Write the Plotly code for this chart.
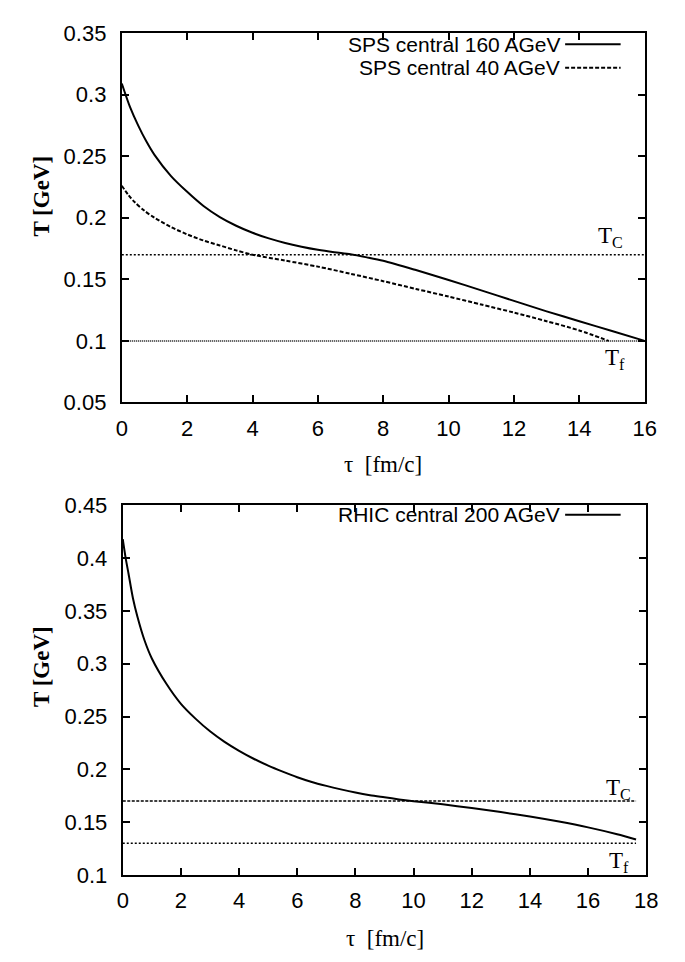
import plotly.graph_objects as go

# ---------------- data ----------------
tau_160 = [0, 0.25, 0.5, 0.75, 1.0, 1.5, 2.0, 2.5, 3.0, 3.5, 4.0, 4.5, 5.0, 5.5, 6.0, 6.5, 7.0,
           7.5, 8, 9, 10, 11, 12, 13, 14, 15, 16]
T_160 = [0.309, 0.290, 0.275, 0.262, 0.251, 0.234, 0.221, 0.2095, 0.2005, 0.1935, 0.1878, 0.1832,
         0.1795, 0.1765, 0.174, 0.172, 0.1703, 0.1678, 0.165, 0.1575, 0.1495, 0.141, 0.1325,
         0.124, 0.116, 0.108, 0.100]

tau_40 = [0, 0.2, 0.4, 0.7, 1.0, 1.5, 2.0, 2.5, 3.0, 3.5, 4.0, 5, 6, 7, 8, 9, 10, 11, 12, 13, 14, 14.9]
T_40 = [0.226, 0.2185, 0.2125, 0.2055, 0.200, 0.1925, 0.1865, 0.1815, 0.1775, 0.1735, 0.1700,
        0.1652, 0.1603, 0.1545, 0.1485, 0.1422, 0.136, 0.1295, 0.123, 0.116, 0.1085, 0.100]

tau_rhic = [0, 0.1, 0.2, 0.35, 0.5, 0.75, 1.0, 1.5, 2.0, 2.5, 3.0, 3.5, 4.0, 4.5, 5.0, 5.5, 6.0,
            6.5, 7.0, 7.5, 8.0, 8.5, 9.0, 9.5, 10, 11, 12, 13, 14, 15, 16, 17, 17.65]
T_rhic = [0.418, 0.400, 0.385, 0.362, 0.345, 0.322, 0.305, 0.281, 0.262, 0.248, 0.236, 0.226,
          0.2175, 0.210, 0.2035, 0.1978, 0.1925, 0.188, 0.1843, 0.181, 0.178, 0.1755, 0.1735,
          0.1715, 0.1698, 0.1668, 0.1633, 0.1595, 0.1553, 0.1505, 0.145, 0.1385, 0.1335]

Tc_sps, Tf_sps, tau_end_sps = 0.17, 0.10, 16.0
Tc_rhic, Tf_rhic, tau_end_rhic = 0.17, 0.13, 17.65

x_ticks_top = [0, 2, 4, 6, 8, 10, 12, 14, 16]
y_ticks_top = [0.05, 0.1, 0.15, 0.2, 0.25, 0.3, 0.35]
y_text_top = ["0.05", "0.1", "0.15", "0.2", "0.25", "0.3", "0.35"]
x_ticks_bot = [0, 2, 4, 6, 8, 10, 12, 14, 16, 18]
y_ticks_bot = [0.1, 0.15, 0.2, 0.25, 0.3, 0.35, 0.4, 0.45]
y_text_bot = ["0.1", "0.15", "0.2", "0.25", "0.3", "0.35", "0.4", "0.45"]

names = ["SPS central 160 AGeV", "SPS central 40 AGeV", "RHIC central 200 AGeV"]

# ---------------- figure ----------------
W, H = 685, 962
SANS = "Liberation Sans, Arial, Helvetica, sans-serif"
SERIF = "Liberation Serif, Times New Roman, serif"
FS = 22

fig = go.Figure()

lw = 2.0
spl = dict(shape="spline", smoothing=0.8)
fig.add_trace(go.Scatter(x=tau_160, y=T_160, mode="lines", name=names[0],
                         line=dict(color="black", width=lw, **spl),
                         xaxis="x", yaxis="y", showlegend=False))
fig.add_trace(go.Scatter(x=tau_40, y=T_40, mode="lines", name=names[1],
                         line=dict(color="black", width=lw, dash="4px,2px", **spl),
                         xaxis="x", yaxis="y", showlegend=False))
fig.add_trace(go.Scatter(x=[0, tau_end_sps], y=[Tc_sps, Tc_sps], mode="lines",
                         line=dict(color="black", width=1.5, dash="2px,2px"),
                         xaxis="x", yaxis="y", showlegend=False))
fig.add_trace(go.Scatter(x=[0, tau_end_sps], y=[Tf_sps, Tf_sps], mode="lines",
                         line=dict(color="black", width=1.5, dash="1px,1px"),
                         xaxis="x", yaxis="y", showlegend=False))

fig.add_trace(go.Scatter(x=tau_rhic, y=T_rhic, mode="lines", name=names[2],
                         line=dict(color="black", width=lw, **spl),
                         xaxis="x2", yaxis="y2", showlegend=False))
fig.add_trace(go.Scatter(x=[0, tau_end_rhic], y=[Tc_rhic, Tc_rhic], mode="lines",
                         line=dict(color="black", width=1.5, dash="3px,1.5px"),
                         xaxis="x2", yaxis="y2", showlegend=False))
fig.add_trace(go.Scatter(x=[0, tau_end_rhic], y=[Tf_rhic, Tf_rhic], mode="lines",
                         line=dict(color="black", width=1.5, dash="2px,2px"),
                         xaxis="x2", yaxis="y2", showlegend=False))

axis_common = dict(showgrid=False, zeroline=False, showline=True, linecolor="black", linewidth=2,
                   mirror="ticks", ticks="inside", ticklen=7, tickwidth=1.5, tickcolor="black",
                   tickfont=dict(family=SANS, size=FS, color="black"))

fig.update_layout(
    width=W, height=H,
    margin=dict(l=0, r=0, t=0, b=0),
    paper_bgcolor="white", plot_bgcolor="white",
    xaxis=dict(domain=[110.7 / W, 647.7 / W], range=[0, 16], tickvals=x_ticks_top,
               anchor="y", ticklabelstandoff=5, **axis_common),
    yaxis=dict(domain=[1 - 392.7 / H, 1 - 13.3 / H], range=[0.05, 0.35], tickvals=y_ticks_top,
               ticktext=y_text_top, anchor="x", ticklabelstandoff=9, **axis_common),
    xaxis2=dict(domain=[111.7 / W, 649.3 / W], range=[0, 18], tickvals=x_ticks_bot,
                anchor="y2", ticklabelstandoff=5, **axis_common),
    yaxis2=dict(domain=[1 - 877.7 / H, 1 - 498.3 / H], range=[0.1, 0.45], tickvals=y_ticks_bot,
                ticktext=y_text_bot, anchor="x2", ticklabelstandoff=9, **axis_common),
)

ann = []
# axis titles
tfont = dict(family=SERIF, size=23, color="black")
ann.append(dict(text="τ  [fm/c]", x=(110.7 + 647.7) / 2 / W, y=1 - 456 / H, xref="paper", yref="paper",
                showarrow=False, font=tfont, xanchor="center", yanchor="middle"))
ann.append(dict(text="τ  [fm/c]", x=(111.7 + 649.3) / 2 / W, y=1 - 943 / H, xref="paper", yref="paper",
                showarrow=False, font=tfont, xanchor="center", yanchor="middle"))
ann.append(dict(text="<b>T [GeV]</b>", x=28 / W, y=1 - 181 / H, xref="paper", yref="paper",
                showarrow=False, textangle=-90, font=tfont, xanchor="center", yanchor="middle"))
ann.append(dict(text="<b>T [GeV]</b>", x=28 / W, y=1 - 664 / H, xref="paper", yref="paper",
                showarrow=False, textangle=-90, font=tfont, xanchor="center", yanchor="middle"))

# Tc / Tf labels
lab_font = dict(family=SERIF, size=23, color="black")
ann.append(dict(text="T<sub>C</sub>", x=14.94, y=0.184, xref="x", yref="y", showarrow=False,
                font=lab_font, xanchor="center", yanchor="middle"))
ann.append(dict(text="T<sub>f</sub>", x=15.09, y=0.0855, xref="x", yref="y", showarrow=False,
                font=lab_font, xanchor="center", yanchor="middle"))
ann.append(dict(text="T<sub>C</sub>", x=17.05, y=0.1818, xref="x2", yref="y2", showarrow=False,
                font=lab_font, xanchor="center", yanchor="middle"))
ann.append(dict(text="T<sub>f</sub>", x=17.05, y=0.1126, xref="x2", yref="y2", showarrow=False,
                font=lab_font, xanchor="center", yanchor="middle"))

# gnuplot-style key: text right-aligned, sample line to the right
key_rows = [(names[0], 25, None), (names[1], 49, "4px,2px"), (names[2], 508, None)]
shapes = []
for name, ypix, dash in key_rows:
    ann.append(dict(text=name, x=562 / W, y=1 - ypix / H, xref="paper", yref="paper",
                    showarrow=False, font=dict(family=SANS, size=21, color="black"),
                    xanchor="right", yanchor="middle", borderpad=0))
    shapes.append(dict(type="line", xref="paper", yref="paper", x0=566 / W, x1=623 / W,
                       y0=1 - ypix / H, y1=1 - ypix / H,
                       line=dict(color="black", width=lw, dash=dash if dash else "solid")))

fig.update_layout(annotations=ann, shapes=shapes)

fig.write_html("out.html")
